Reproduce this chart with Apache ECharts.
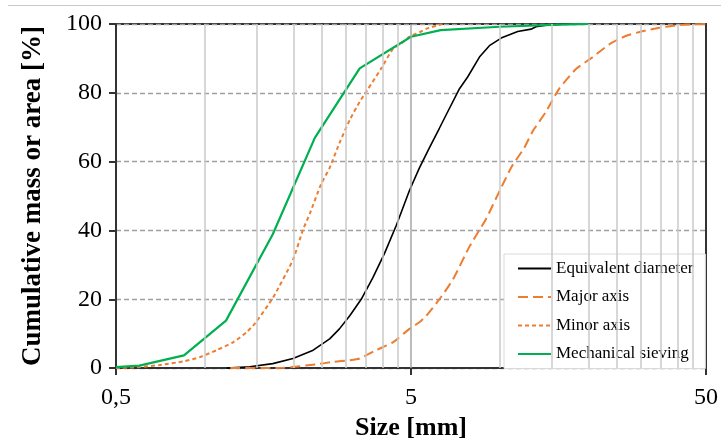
<!DOCTYPE html>
<html><head><meta charset="utf-8">
<script src="https://cdn.jsdelivr.net/npm/echarts@6/dist/echarts.min.js"></script>
<style>html,body{margin:0;padding:0;background:#fff}#chart{width:721px;height:446px}</style>
</head><body><div id="chart"></div>
<script>
// ---- data (size in mm, cumulative %) ----
const eqSize = [1.185,1.42,1.70,1.99,2.33,2.65,2.86,3.10,3.39,3.71,4.07,4.46,4.94,5.34,5.77,6.24,6.66,7.30,7.78,8.53,9.22,10.2,11.5,12.76,13.26,14.7,17.2];
const eqPct  = [0,0.4,1.3,2.8,5.2,8.5,11.4,15.2,20,26.2,33.4,41.5,51.6,58.2,64.0,69.7,74.5,81.2,84.6,90.4,93.7,96.1,97.8,98.5,99.2,99.8,100];

const majSize = [1.22,1.84,2.39,2.72,3.10,3.35,3.81,4.34,4.94,5.34,5.63,6.24,6.93,7.89,9.0,9.96,11.0,12.1,12.92,14.34,15.9,18.12,20.6,23.5,26.7,30.4,34.7,39.5,44.9,50];
const majPct  = [0,0.1,1.1,1.8,2.3,2.8,5.2,7.5,11.4,13.3,15.2,20,25.7,35.3,43.5,51.3,58.7,64.0,68.8,74.5,81.2,86.9,90.3,94.1,96.5,97.9,98.9,99.6,99.9,100];

const minSize = [0.5,0.603,0.704,0.85,0.962,1.096,1.247,1.384,1.48,1.703,1.99,2.15,2.27,2.48,2.65,2.86,3.10,3.35,3.55,3.95,4.34,4.69,4.94,5.35,5.63,6.33,6.5];
const minPct  = [0,0.3,0.9,2.0,3.2,5.2,7.5,10.4,13,20.5,31.5,40.1,44.9,53.5,58.2,65.4,72.1,77.4,80.7,86.9,92.7,94.7,96.3,97.6,98.6,99.9,100];

const sieveSize = [0.5,0.6,0.85,1.18,1.7,2.36,3.35,5,6.3,10,16,20];
const sievePct  = [0.3,0.7,3.7,13.8,38.9,66.9,87.1,96.3,98.2,99.2,99.8,100];

const seriesNames = ['Equivalent diameter','Major axis','Minor axis','Mechanical sieving'];
const xTickValues = [0.5,5,50];
const minorGridSizes = [1,1.5,2,2.5,3,3.5,4,4.5,10,15,20,25,30,35,40,45];
const majorGridSizes = [5];

const pairs = (xs, ys) => xs.map((x, i) => [x, ys[i]]);
const FONT = '"Liberation Serif", "Times New Roman", serif';
const AX = '#333';

const chart = echarts.init(document.getElementById('chart'), null, {renderer: 'canvas'});
chart.setOption({
  animation: false,
  backgroundColor: '#fff',
  graphic: [{type: 'line', silent: true, shape: {x1: 8, y1: 5.5, x2: 721, y2: 5.5}, style: {stroke: '#c8c8c8', lineWidth: 1}}],
  grid: {left: 116, top: 24, width: 591, height: 349, show: true, borderColor: AX, borderWidth: 2, backgroundColor: 'transparent', containLabel: false},
  legend: {
    orient: 'vertical', left: 504, top: 254, padding: [6, 12, 6, 13], itemGap: 11.5,
    itemWidth: 33, itemHeight: 14, backgroundColor: '#fff', borderColor: '#d9d9d9', borderWidth: 1,
    itemStyle: {opacity: 0, color: 'transparent', borderColor: 'transparent', borderWidth: 0},
    textStyle: {fontFamily: FONT, fontSize: 17, color: '#000'}, data: seriesNames, selectedMode: false
  },
  xAxis: {
    type: 'log', logBase: 10, min: 0.5, max: 50,
    name: 'Size [mm]', nameLocation: 'middle', nameGap: 46,
    nameTextStyle: {fontFamily: FONT, fontWeight: 'bold', fontSize: 26, color: '#000'},
    axisLine: {show: true, onZero: false, lineStyle: {color: AX, width: 2}},
    axisTick: {show: true, length: 7, customValues: xTickValues, lineStyle: {color: AX, width: 2}},
    axisLabel: {customValues: xTickValues, margin: 18, fontFamily: FONT, fontSize: 24, color: '#000',
      formatter: v => String(v).replace('.', ',')},
    splitLine: {show: false}, minorTick: {show: false}
  },
  yAxis: {
    type: 'value', min: 0, max: 100, interval: 20,
    name: 'Cumulative mass or area [%]', nameLocation: 'middle', nameGap: 69,
    nameTextStyle: {fontFamily: FONT, fontWeight: 'bold', fontSize: 27, color: '#000'},
    axisLine: {show: true, lineStyle: {color: AX, width: 2}},
    axisTick: {show: true, length: 7, lineStyle: {color: AX, width: 2}},
    axisLabel: {margin: 14, fontFamily: FONT, fontSize: 24, color: '#000'},
    splitLine: {show: true, lineStyle: {color: '#a0a0a0', width: 1.3, type: [5, 3]}}
  },
  series: [
    {
      type: 'line', name: '_grid', data: [], z: 1, silent: true,
      markLine: {
        silent: true, symbol: 'none', label: {show: false}, animation: false,
        data: minorGridSizes.map(v => ({xAxis: v, lineStyle: {color: '#cacaca', width: 1.5, type: 'solid'}}))
          .concat(majorGridSizes.map(v => ({xAxis: v, lineStyle: {color: '#a6a6a6', width: 1.5, type: 'solid'}})))
      }
    },
    {type: 'line', name: seriesNames[0], data: pairs(eqSize, eqPct), symbol: 'none', showSymbol: false,
     lineStyle: {color: '#000', width: 1.6}, itemStyle: {color: '#000'}, emphasis: {disabled: true}},
    {type: 'line', name: seriesNames[1], data: pairs(majSize, majPct), symbol: 'none', showSymbol: false, smooth: 0.2,
     lineStyle: {color: '#ED7D31', width: 2, type: [10, 5]}, itemStyle: {color: '#ED7D31'}, emphasis: {disabled: true}},
    {type: 'line', name: seriesNames[2], data: pairs(minSize, minPct), symbol: 'none', showSymbol: false, smooth: 0.2,
     lineStyle: {color: '#ED7D31', width: 2, type: [4, 3]}, itemStyle: {color: '#ED7D31'}, emphasis: {disabled: true}},
    {type: 'line', name: seriesNames[3], data: pairs(sieveSize, sievePct), symbol: 'none', showSymbol: false,
     lineStyle: {color: '#00B050', width: 2.2}, itemStyle: {color: '#00B050'}, emphasis: {disabled: true}}
  ]
});
</script>
</body></html>
